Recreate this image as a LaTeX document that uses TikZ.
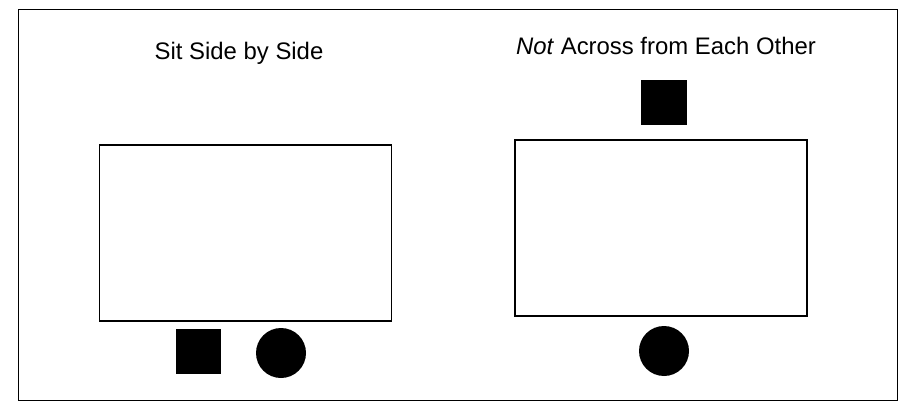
\documentclass[tikz,border=0pt]{standalone}
\usepackage{fontspec}
\setmainfont{Liberation Sans}
\begin{document}
\begin{tikzpicture}[font=\fontsize{17}{20}\selectfont,
  table/.style={draw, line width=0.9pt, minimum width=7.3cm, minimum height=4.4cm, inner sep=0pt},
  sqseat/.style={fill=black, minimum size=1.13cm, inner sep=0pt},
  rdseat/.style={circle, fill=black, minimum size=1.25cm, inner sep=0pt}]
\useasboundingbox (0,0) rectangle (22.525,10.1);
\draw[line width=0.6pt] (0.45,0.1) rectangle (22.425,9.875);
% side by side
\node[anchor=base] (titleA) at (5.975,8.6) {Sit Side by Side};
\node[table] (tableA) at (6.14,4.275) {};
\node[sqseat] (sqA) at (4.96,1.31) {};
\node[rdseat] (rdA) at (7.025,1.275) {};
% across
\node[anchor=base] (titleB) at (16.65,8.725) {\textit{Not} Across from Each Other};
\node[table] (tableB) at (16.525,4.4) {};
\node[sqseat] (sqB) at (16.6,7.54) {};
\node[rdseat] (rdB) at (16.6,1.325) {};
\end{tikzpicture}
\end{document}
